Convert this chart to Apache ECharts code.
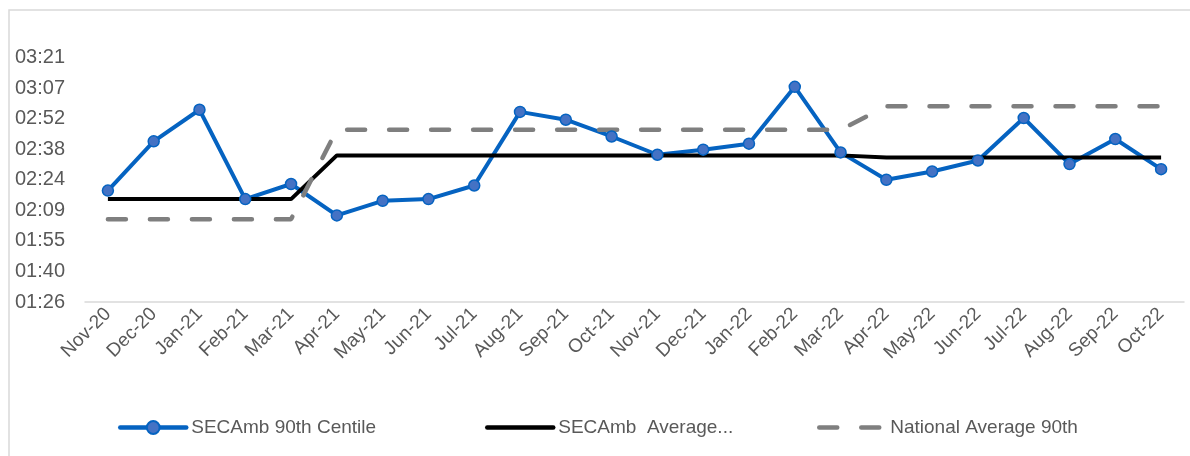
<!DOCTYPE html>
<html>
<head>
<meta charset="utf-8">
<script src="https://cdn.jsdelivr.net/npm/echarts@6/dist/echarts.min.js"></script>
<style>
  html, body { margin: 0; padding: 0; background: #fff; }
  #chart { width: 1190px; height: 456px; }
</style>
</head>
<body>
<div id="chart"></div>
<script>
// months on the x axis
var months = ['Nov-20', 'Dec-20', 'Jan-21', 'Feb-21', 'Mar-21', 'Apr-21', 'May-21', 'Jun-21',
    'Jul-21', 'Aug-21', 'Sep-21', 'Oct-21', 'Nov-21', 'Dec-21', 'Jan-22', 'Feb-22', 'Mar-22',
    'Apr-22', 'May-22', 'Jun-22', 'Jul-22', 'Aug-22', 'Sep-22', 'Oct-22'];

// values in minutes
var centile = [138.9, 162.1, 177.0, 134.9, 142.0, 127.2, 134.1, 134.9, 141.3, 176.0, 172.3, 164.4,
    155.8, 158.2, 161.0, 187.8, 156.9, 144.0, 147.9, 153.1, 173.1, 151.4, 163.2, 149.0];
var average = [134.9, 134.9, 134.9, 134.9, 134.9, 155.5, 155.5, 155.5, 155.5, 155.5, 155.5, 155.5,
    155.5, 155.5, 155.5, 155.5, 155.5, 154.5, 154.5, 154.5, 154.5, 154.5, 154.5, 154.5];
var national = [125.4, 125.4, 125.4, 125.4, 125.4, 167.6, 167.6, 167.6, 167.6, 167.6, 167.6, 167.6,
    167.6, 167.6, 167.6, 167.6, 167.6, 178.6, 178.6, 178.6, 178.6, 178.6, 178.6, 178.6];

// y axis in seconds: 0.06 day .. 0.15 day, step 0.01 day
var yMin = 5184;
var yMax = 12960;
var yStep = 864;

var seriesNames = ['SECAmb 90th Centile', 'SECAmb  Average...', 'National Average 90th'];

function toSec(list) {
    return list.map(function (m) { return Math.round(m * 60); });
}

function hhmm(s) {
    var h = Math.floor(s / 3600);
    var m = Math.floor((s % 3600) / 60);
    return (h < 10 ? '0' : '') + h + ':' + (m < 10 ? '0' : '') + m;
}

var textColor = '#595959';
var fontFamily = 'Liberation Sans, Arial, sans-serif';

var chart = echarts.init(document.getElementById('chart'));

function legendAt(left, name, hideDot) {
    return {
        left: left,
        top: 413,
        itemWidth: 66,
        itemHeight: 16,
        itemGap: 5,
        data: [name],
        lineStyle: { width: 4.5, cap: 'round' },
        // only the blue one keeps its marker
        itemStyle: hideDot ? { opacity: 0 } : {},
        textStyle: { color: textColor, fontSize: 19, fontFamily: fontFamily }
    };
}

var option = {
    animation: false,
    backgroundColor: '#fff',
    // outer chart border
    graphic: [{
        type: 'rect',
        shape: { x: 9, y: 10, width: 1300, height: 600 },
        style: { fill: 'none', stroke: '#d9d9d9', lineWidth: 1.5 },
        silent: true
    }],
    legend: [
        legendAt(113, seriesNames[0], false),
        legendAt(480, seriesNames[1], true),
        legendAt(812, seriesNames[2], true)
    ],
    grid: {
        left: 85,
        right: 6,
        top: 27,
        bottom: 154
    },
    xAxis: {
        type: 'category',
        data: months,
        boundaryGap: true,
        axisLine: { lineStyle: { color: '#d9d9d9', width: 1.5 } },
        axisTick: { show: false },
        axisLabel: {
            rotate: 45,
            margin: 9,
            interval: 0,
            color: textColor,
            fontSize: 19,
            fontFamily: fontFamily
        }
    },
    yAxis: {
        type: 'value',
        min: yMin,
        max: yMax,
        interval: yStep,
        axisLine: { show: false },
        axisTick: { show: false },
        splitLine: { show: false },
        axisLabel: {
            showMaxLabel: false,
            margin: 20,
            color: textColor,
            fontSize: 20,
            fontFamily: fontFamily,
            formatter: function (v) { return hhmm(v); }
        }
    },
    series: [{
        name: seriesNames[0],
        type: 'line',
        data: toSec(centile),
        symbol: 'circle',
        symbolSize: 11,
        lineStyle: { color: '#0563c1', width: 4 },
        itemStyle: { color: '#4472c4', borderColor: '#0563c1', borderWidth: 1.5 }
    }, {
        name: seriesNames[1],
        type: 'line',
        data: toSec(average),
        showSymbol: false,
        symbol: 'none',
        lineStyle: { color: '#000', width: 4 },
        itemStyle: { color: '#000' }
    }, {
        name: seriesNames[2],
        type: 'line',
        data: toSec(national),
        showSymbol: false,
        symbol: 'none',
        lineStyle: { color: '#7f7f7f', width: 4.5, type: [18, 24], cap: 'round' },
        itemStyle: { color: '#7f7f7f' }
    }]
};

chart.setOption(option);
</script>
</body>
</html>
